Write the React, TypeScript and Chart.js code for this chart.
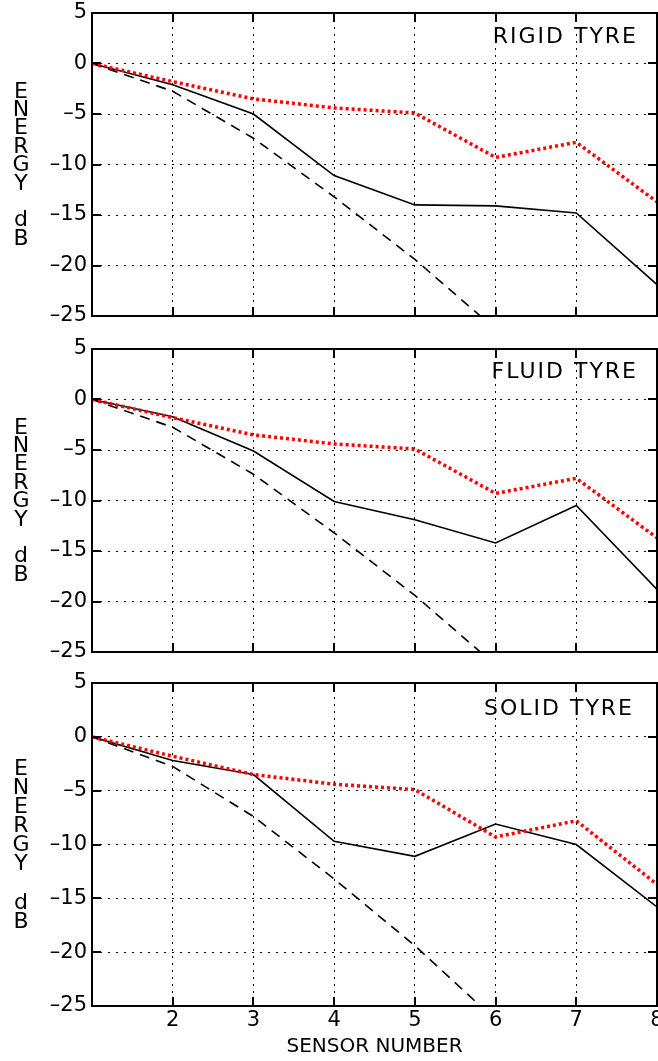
import React, { useEffect, useRef } from 'react';
import { Chart, registerables } from 'chart.js';

Chart.register(...registerables);

// ---- data ----
const SENSORS = [1, 2, 3, 4, 5, 6, 7, 8];
const Y_TICKS = [5, 0, -5, -10, -15, -20, -25];
const RED_DOTTED = [0, -1.8, -3.5, -4.4, -4.9, -9.3, -7.8, -13.7];
const DASHED = [0, -2.75, -7.4, -13.2, -19.4, -26.3, null, null];
const RIGID = [0, -2.1, -5.0, -11.1, -14.0, -14.1, -14.8, -21.9];
const FLUID = [0, -1.7, -5.1, -10.1, -11.9, -14.2, -10.5, -18.8];
const SOLID = [0, -2.2, -3.5, -9.7, -11.1, -8.1, -10.0, -15.8];
const TITLES = ['RIGID TYRE', 'FLUID TYRE', 'SOLID TYRE'];
const Y_LABEL = 'ENERGY dB';
const X_LABEL = 'SENSOR NUMBER';

const SERIES = [RIGID, FLUID, SOLID];

// ---- layout (pixels) ----
const PANELS = [
  { canvasTop: 0, canvasH: 330, areaTop: 13, areaBottom: 316, pitch: 18.4, titleDy: 30, titleRight: 19, showX: false },
  { canvasTop: 333, canvasH: 330, areaTop: 349, areaBottom: 652, pitch: 18.4, titleDy: 29, titleRight: 19, showX: false },
  { canvasTop: 670, canvasH: 391, areaTop: 683, areaBottom: 1006, pitch: 19.1, titleDy: 32, titleRight: 23, showX: true },
];
const W = 658;
const AREA_LEFT = 92;
const AREA_RIGHT = 657;
const FONT = '"DejaVu Sans", sans-serif';

const toPts = (arr: (number | null)[]) => SENSORS.map((x, i) => ({ x, y: arr[i] }));
const fmt = (v: number) => (v < 0 ? '\u2013' + Math.abs(v) : String(v));

function Panel({ idx }: { idx: number }) {
  const ref = useRef<HTMLCanvasElement | null>(null);
  const p = PANELS[idx];
  useEffect(() => {
    const canvas = ref.current!;
    const decor = {
      id: 'decor',
      afterDatasetsDraw(chart: any) {
        const { ctx, chartArea: a, scales } = chart;
        const xs = scales.x, ys = scales.y;
        ctx.save();
        ctx.strokeStyle = '#000';
        ctx.lineWidth = 2;
        ctx.setLineDash([]);
        // inward ticks
        const TL = 9;
        ctx.beginPath();
        for (let v = 2; v <= 7; v++) {
          const px = Math.round(xs.getPixelForValue(v));
          ctx.moveTo(px, a.bottom); ctx.lineTo(px, a.bottom - TL);
          ctx.moveTo(px, a.top); ctx.lineTo(px, a.top + TL);
        }
        for (const v of Y_TICKS) {
          const py = Math.round(ys.getPixelForValue(v));
          ctx.moveTo(a.left, py); ctx.lineTo(a.left + TL, py);
          ctx.moveTo(a.right, py); ctx.lineTo(a.right - TL, py);
        }
        ctx.stroke();
        ctx.strokeRect(a.left, a.top, a.right - a.left, a.bottom - a.top);
        // title
        ctx.fillStyle = '#000';
        ctx.font = `22px ${FONT}`;
        (ctx as any).letterSpacing = '2px';
        ctx.textAlign = 'right';
        ctx.textBaseline = 'alphabetic';
        ctx.fillText(TITLES[idx], a.right - p.titleRight, a.top + p.titleDy);
        (ctx as any).letterSpacing = '0px';
        // stacked y label
        ctx.font = `22px ${FONT}`;
        ctx.textAlign = 'center';
        ctx.textBaseline = 'middle';
        const chars = Y_LABEL.split('');
        const cy = (a.top + a.bottom) / 2;
        const start = cy - ((chars.length - 1) / 2) * p.pitch;
        chars.forEach((c, i) => {
          if (c !== ' ') ctx.fillText(c, 21, start + i * p.pitch + 1);
        });
        ctx.restore();
      },
    };
    const chart = new Chart(canvas, {
      type: 'line',
      data: {
        datasets: [
          {
            data: toPts(RED_DOTTED),
            borderColor: '#ff0000',
            borderWidth: 3.5,
            borderDash: [3, 3],
            borderCapStyle: 'butt',
            pointRadius: 0,
            tension: 0,
          },
          {
            data: toPts(SERIES[idx]),
            borderColor: '#000',
            borderWidth: 1.6,
            pointRadius: 0,
            tension: 0,
          },
          {
            data: toPts(DASHED),
            borderColor: '#000',
            borderWidth: 1.6,
            borderDash: [10, 7],
            pointRadius: 0,
            tension: 0,
            spanGaps: false,
          },
        ],
      },
      options: {
        animation: false,
        responsive: false,
        maintainAspectRatio: false,
        devicePixelRatio: 1,
        layout: { padding: { top: p.areaTop - p.canvasTop, right: W - AREA_RIGHT, left: 0, bottom: 0 } },
        plugins: { legend: { display: false }, tooltip: { enabled: false }, title: { display: false } },
        scales: {
          x: {
            type: 'linear',
            min: 1,
            max: 8,
            afterFit: (s: any) => {
              s.height = p.canvasTop + p.canvasH - p.areaBottom;
              s.paddingLeft = 0;
              s.paddingRight = 0;
            },
            ticks: {
              display: p.showX,
              stepSize: 1,
              padding: 2,
              color: '#000',
              font: { family: FONT, size: 21 },
              maxRotation: 0,
              autoSkip: false,
              callback: (v: any) => (v === 1 ? '' : String(v)),
            },
            grid: {
              color: '#000',
              lineWidth: (c: any) => (c.tick && (c.tick.value === 1 || c.tick.value === 8) ? 0 : 1),
              drawTicks: false,
            },
            border: { display: false, dash: [2, 5] },
            title: {
              display: p.showX,
              text: X_LABEL,
              color: '#000',
              font: { family: FONT, size: 20 },
              padding: { top: 0, bottom: 2 },
            },
          },
          y: {
            type: 'linear',
            min: -25,
            max: 5,
            afterFit: (s: any) => {
              s.width = AREA_LEFT;
              s.paddingTop = 0;
              s.paddingBottom = 0;
            },
            ticks: {
              stepSize: 5,
              padding: 5,
              color: '#000',
              font: { family: FONT, size: 21 },
              callback: (v: any) => fmt(Number(v)),
            },
            grid: {
              color: '#000',
              lineWidth: (c: any) => (c.tick && (c.tick.value === 5 || c.tick.value === -25) ? 0 : 1),
              drawTicks: false,
            },
            border: { display: false, dash: [2, 6] },
          },
        },
      },
      plugins: [decor],
    } as any);
    return () => chart.destroy();
  }, []);
  return (
    <canvas
      ref={ref}
      width={W}
      height={p.canvasH}
      style={{ position: 'absolute', left: 0, top: p.canvasTop, width: W, height: p.canvasH }}
    />
  );
}

export default function App() {
  return (
    <div style={{ position: 'absolute', left: 0, top: 0, width: W, height: 1061, background: '#fff', overflow: 'hidden' }}>
      {PANELS.map((_, i) => (
        <Panel key={i} idx={i} />
      ))}
    </div>
  );
}
